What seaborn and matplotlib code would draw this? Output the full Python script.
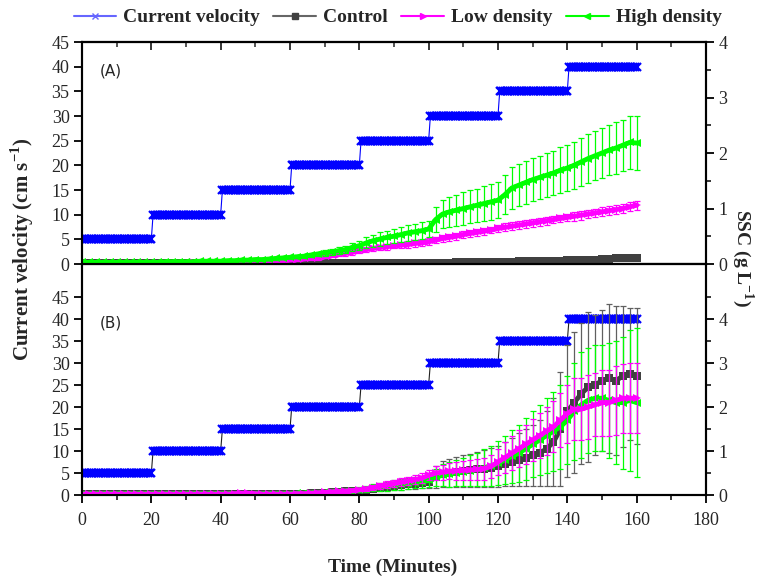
import numpy as np
import pandas as pd
import matplotlib
matplotlib.use('Agg')
import matplotlib.pyplot as plt
import seaborn as sns
from matplotlib.lines import Line2D
from matplotlib.ticker import MultipleLocator, FixedLocator

# current velocity steps (cm/s), sampled every 0.5 min
vel_levels = [5, 10, 15, 20, 25, 30, 35, 40]
vel_counts = [41, 40, 40, 40, 40, 40, 40, 40]
vel_time = np.arange(0, 160.5, 0.5)
vel = np.repeat(vel_levels, vel_counts)

# SSC (g/L) every 2 min
ssc_time = np.arange(0, 161, 2)

# panel A
high_a = ([0.03] * 11 +
          [.03, .04, .04, .04, .04, .04, .05, .05, .05, .05] +
          [.06, .06, .07, .07, .08, .08, .09, .10, .11, .12] +
          [.13, .14, .16, .18, .20, .22, .24, .26, .30, .33] +
          [.38, .42, .45, .48, .50, .53, .56, .58, .60, .63] +
          [.80, .90, .94, .97, 1.00, 1.03, 1.06, 1.09, 1.12, 1.15] +
          [1.25, 1.37, 1.42, 1.47, 1.52, 1.56, 1.60, 1.64, 1.69, 1.73] +
          [1.78, 1.84, 1.90, 1.95, 2.00, 2.05, 2.09, 2.14, 2.19, 2.18])
high_a_err = ([0.01] * 21 + [0.02] * 10 +
              [.03, .03, .04, .04, .05, .05, .06, .06, .07, .08] +
              [.10, .11, .12, .12, .13, .13, .14, .14, .15, .15] +
              [.22, .26, .27, .28, .29, .30, .30, .31, .32, .33] +
              [.35, .37, .38, .38, .39, .39, .40, .40, .41, .42] +
              [.42, .43, .44, .44, .45, .45, .46, .46, .47, .48])
low_a = ([0.02] * 11 +
         [.02, .02, .02, .02, .02, .03, .03, .03, .03, .03] +
         [.03, .03, .04, .04, .04, .05, .05, .06, .06, .07] +
         [.08, .09, .10, .11, .13, .15, .17, .19, .21, .24] +
         [.26, .28, .30, .31, .33, .34, .35, .37, .38, .40] +
         [.43, .46, .48, .50, .53, .55, .57, .59, .61, .64] +
         [.66, .68, .70, .72, .74, .76, .78, .80, .82, .84] +
         [.86, .88, .90, .92, .94, .96, .98, 1.00, 1.03, 1.06])
low_a_err = ([0.01] * 31 +
             [.02, .02, .02, .03, .03, .03, .03, .04, .04, .04] +
             [.04, .05, .05, .05, .05, .05, .06, .06, .06, .06] +
             [0.06] * 10 + [0.07] * 10 + [0.08] * 10)
ctrl_a = ([0.01] * 41 +
          [.01, .01, .01, .01, .01, .02, .02, .02, .02, .02] +
          [.02, .02, .02, .03, .03, .03, .03, .03, .04, .04] +
          [.04, .04, .05, .05, .05, .05, .06, .06, .06, .07] +
          [.07, .07, .08, .08, .09, .09, .10, .10, .11, .11])
ctrl_a_err = [0.01] * 51 + [0.02] * 20 + [0.03] * 10

# panel B
ctrl_b = ([0.02] * 31 +
          [.03, .03, .04, .04, .05, .06, .07, .08, .09, .10] +
          [.12, .14, .16, .18, .20, .22, .24, .26, .28, .30] +
          [.40, .48, .50, .52, .54, .56, .58, .60, .62, .65] +
          [.70, .75, .80, .85, .90, .95, 1.05, 1.20, 1.50, 1.90] +
          [2.10, 2.30, 2.45, 2.50, 2.60, 2.65, 2.60, 2.70, 2.75, 2.70])
ctrl_b_err = ([0.01] * 31 +
              [.02, .02, .02, .03, .03, .03, .03, .04, .04, .04] +
              [.05, .06, .07, .08, .09, .10, .11, .12, .13, .15] +
              [.25, .30, .32, .34, .36, .38, .40, .42, .44, .46] +
              [.50, .55, .60, .65, .70, .75, .85, 1.00, 1.30, 1.50] +
              [1.60, 1.60, 1.70, 1.60, 1.60, 1.70, 1.70, 1.60, 1.50, 1.55])
high_b = ([0.03] * 31 +
          [.04, .04, .05, .05, .06, .07, .08, .09, .10, .12] +
          [.14, .16, .18, .20, .22, .24, .26, .28, .30, .33] +
          [.40, .45, .47, .50, .52, .55, .58, .62, .66, .72] +
          [.80, .88, .95, 1.05, 1.15, 1.25, 1.35, 1.45, 1.55, 1.70] +
          [1.90, 2.05, 2.15, 2.20, 2.20, 2.15, 2.10, 2.10, 2.15, 2.10])
high_b_err = ([0.02] * 31 +
              [.03, .03, .03, .04, .04, .04, .05, .05, .05, .06] +
              [.07, .08, .09, .10, .11, .12, .13, .13, .14, .15] +
              [.20, .25, .28, .30, .32, .35, .38, .42, .46, .50] +
              [.55, .60, .65, .70, .75, .80, .85, .90, .95, 1.00] +
              [1.10, 1.20, 1.20, 1.20, 1.20, 1.30, 1.40, 1.50, 1.60, 1.70])
low_b = ([0.02] * 21 +
         [.02, .03, .04, .04, .03, .02, .02, .02, .02, .02] +
         [.03, .03, .04, .05, .06, .07, .08, .09, .10, .12] +
         [.14, .17, .20, .23, .26, .29, .32, .35, .38, .45] +
         [.50, .52, .54, .55, .56, .57, .58, .60, .65, .75] +
         [.85, .95, 1.05, 1.15, 1.25, 1.35, 1.45, 1.55, 1.70, 1.85] +
         [1.95, 1.95, 2.00, 2.05, 2.10, 2.10, 2.15, 2.20, 2.20, 2.20])
low_b_err = ([0.01] * 31 +
             [.02, .02, .02, .03, .03, .03, .03, .04, .04, .04] +
             [.05, .06, .07, .08, .08, .09, .10, .10, .11, .12] +
             [.15, .17, .18, .20, .21, .22, .24, .25, .27, .30] +
             [.35, .38, .42, .45, .48, .52, .55, .58, .62, .66] +
             [.70, .70, .72, .72, .75, .75, .78, .78, .80, .80])

x_ticks = list(range(0, 181, 20))

sns.set_style('ticks')
plt.rcParams['font.family'] = ['Liberation Serif', 'DejaVu Serif']
plt.rcParams['mathtext.fontset'] = 'custom'
plt.rcParams['mathtext.rm'] = 'Liberation Serif'
plt.rcParams['mathtext.bf'] = 'Liberation Serif:bold'

BLUE = '#0000ff'
CTRL = '#404040'
LOW = '#ff00ff'
HIGH = '#00ff00'

fig = plt.figure(figsize=(7.6, 5.81), dpi=100)
ax_a = fig.add_axes([0.1079, 0.5456, 0.821, 0.3821])
ax_b = fig.add_axes([0.1079, 0.1480, 0.821, 0.3976])


def draw_panel(ax, series, vel_top, ssc_top, label, vel_line):
    sns.lineplot(x=vel_time, y=vel, ax=ax, color=vel_line, linewidth=0.8,
                 marker='x', markersize=6, markeredgewidth=1.6,
                 markeredgecolor=BLUE, markerfacecolor=BLUE)
    ax2 = ax.twinx()
    for mean, err, color, ecolor, marker in series:
        ax2.errorbar(ssc_time, mean, yerr=err, fmt='none', ecolor=ecolor,
                     elinewidth=0.9, capsize=2.5, capthick=0.9)
        sns.lineplot(x=ssc_time, y=mean, ax=ax2, color=color, linewidth=3.5,
                     marker=marker, markersize=5.5, markeredgewidth=0)
    ax.set_xlim(0, 180)
    ax.set_ylim(0, vel_top)
    ax2.set_ylim(0, ssc_top)
    ax.set_xticks(x_ticks)
    ax.xaxis.set_minor_locator(MultipleLocator(10))
    ax.set_yticks(range(0, 46, 5))
    ax2.set_yticks(range(0, 5))
    ax2.yaxis.set_minor_locator(FixedLocator([0.5, 1.5, 2.5, 3.5, 4.5]))
    ax.set_xlabel('')
    ax.set_ylabel('')
    ax2.set_ylabel('')
    for a in (ax, ax2):
        for s in a.spines.values():
            s.set_linewidth(1.5)
            s.set_color('black')
        a.tick_params(which='major', length=6, width=1.3, labelsize=13,
                      color='black', pad=3)
        a.tick_params(which='minor', length=3.5, width=1.1, color='black')
    ax.text(0.028, 0.87 if label == '(A)' else 0.745, label,
            transform=ax.transAxes, fontsize=11, family='DejaVu Sans',
            va='center', ha='left')
    return ax2


draw_panel(ax_a, [(ctrl_a, ctrl_a_err, CTRL, '#606060', 's'),
                  (low_a, low_a_err, LOW, LOW, '>'),
                  (high_a, high_a_err, HIGH, HIGH, '<')],
           45, 4, '(A)', BLUE)
draw_panel(ax_b, [(ctrl_b, ctrl_b_err, CTRL, '#606060', 's'),
                  (high_b, high_b_err, HIGH, HIGH, '<'),
                  (low_b, low_b_err, LOW, LOW, '>')],
           52.5, 5.25, '(B)', '#202020')

ax_a.tick_params(axis='x', labelbottom=False)
top = ax_a.secondary_xaxis('top')
top.set_xticks(x_ticks)
top.xaxis.set_minor_locator(MultipleLocator(10))
top.tick_params(which='major', direction='in', length=6, width=1.3,
                labeltop=False)
top.tick_params(which='minor', direction='in', length=3.5, width=1.1)
top.spines['top'].set_linewidth(1.5)
ax_b.set_xticklabels([str(t) for t in x_ticks])
ax_b.tick_params(axis='x', pad=6)

fig.text(0.029, 0.57, r'Current velocity (cm s$^{\mathbf{-1}}$)',
         rotation=90, ha='center', va='center', fontsize=15, fontweight='bold')
fig.text(0.977, 0.556, r'SSC (g L$^{\mathbf{-1}}$)', rotation=270,
         ha='center', va='center', fontsize=14, fontweight='bold')
fig.text(0.516, 0.024, 'Time (Minutes)', ha='center', va='center',
         fontsize=14, fontweight='bold')

handles = [
    Line2D([], [], color='#6666ff', marker='x', markersize=5, lw=1.5),
    Line2D([], [], color='#666666', marker='s', markersize=4,
           markerfacecolor=CTRL, markeredgecolor=CTRL, lw=1.5),
    Line2D([], [], color=LOW, marker='>', markersize=5, lw=1.5),
    Line2D([], [], color=HIGH, marker='<', markersize=5, lw=1.5),
]
fig.legend(handles, ['Current velocity', 'Control', 'Low density', 'High density'],
           loc='upper center', bbox_to_anchor=(0.523, 1.015), ncol=4,
           frameon=False, prop={'weight': 'bold', 'size': 14},
           handlelength=2.2, handletextpad=0.35, columnspacing=0.7)

fig.savefig('out.png', dpi=100)
